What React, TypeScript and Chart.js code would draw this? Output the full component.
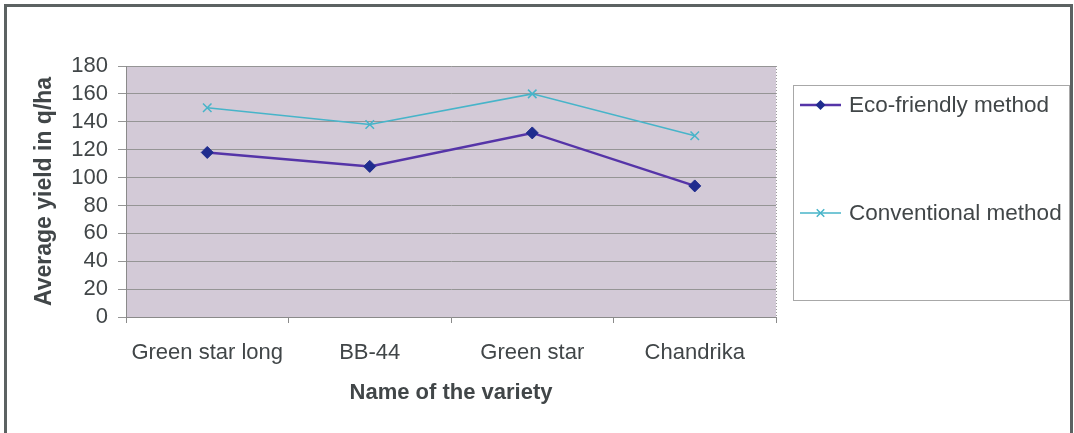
import React, { useEffect, useRef } from "react";
import { Chart, registerables } from "chart.js";

Chart.register(...registerables);

const categories = ["Green star long", "BB-44", "Green star", "Chandrika"];
const ecoFriendly = [118, 108, 132, 94];
const conventional = [150, 138, 160, 130];
const seriesNames = ["Eco-friendly method", "Conventional method"];
const yTitle = "Average yield in q/ha";
const xTitle = "Name of the variety";

const FONT = "'Liberation Sans', Arial, sans-serif";
const TEXT = "#414648";

const framePlugin = {
  id: "frame",
  beforeDraw(chart: any) {
    const { ctx, chartArea } = chart;
    ctx.save();
    ctx.fillStyle = "#ffffff";
    ctx.fillRect(0, 0, chart.width, chart.height);
    ctx.strokeStyle = "#5c6262";
    ctx.lineWidth = 3;
    ctx.beginPath();
    ctx.moveTo(5.5, chart.height);
    ctx.lineTo(5.5, 5.5);
    ctx.lineTo(1071.5, 5.5);
    ctx.lineTo(1071.5, chart.height);
    ctx.stroke();
    ctx.fillStyle = "#d3cad7";
    ctx.fillRect(chartArea.left, chartArea.top, chartArea.right - chartArea.left, chartArea.bottom - chartArea.top);
    ctx.restore();
  },
  afterDraw(chart: any) {
    const { ctx, chartArea } = chart;
    ctx.save();
    ctx.strokeStyle = "#9a9a9a";
    ctx.setLineDash([1, 2]);
    ctx.lineWidth = 1;
    ctx.beginPath();
    ctx.moveTo(chartArea.right + 0.5, chartArea.top);
    ctx.lineTo(chartArea.right + 0.5, chartArea.bottom);
    ctx.stroke();
    ctx.setLineDash([]);
    const bx = 793, by = 85, bw = 276, bh = 215;
    ctx.strokeStyle = "#a8a8a8";
    ctx.strokeRect(bx + 0.5, by + 0.5, bw, bh);
    const rows = [105, 213];
    chart.data.datasets.forEach((ds: any, i: number) => {
      const y = rows[i];
      ctx.strokeStyle = ds.borderColor;
      ctx.lineWidth = ds.borderWidth;
      ctx.beginPath();
      ctx.moveTo(800, y);
      ctx.lineTo(841, y);
      ctx.stroke();
      ctx.lineWidth = 1.5;
      ctx.fillStyle = ds.pointBackgroundColor;
      ctx.strokeStyle = ds.pointBorderColor;
      const r = 5;
      const cx = 820.5;
      if (ds.pointStyle === "rectRot") {
        ctx.beginPath();
        ctx.moveTo(cx, y - r);
        ctx.lineTo(cx + r, y);
        ctx.lineTo(cx, y + r);
        ctx.lineTo(cx - r, y);
        ctx.closePath();
        ctx.fill();
      } else {
        const d = r * 0.75;
        ctx.beginPath();
        ctx.moveTo(cx - d, y - d);
        ctx.lineTo(cx + d, y + d);
        ctx.moveTo(cx + d, y - d);
        ctx.lineTo(cx - d, y + d);
        ctx.stroke();
      }
      ctx.fillStyle = TEXT;
      ctx.font = "22.5px " + FONT;
      ctx.textBaseline = "middle";
      ctx.textAlign = "left";
      ctx.fillText(ds.label, 849, y + 1);
    });
    ctx.restore();
  },
};

export default function App() {
  const ref = useRef<HTMLCanvasElement>(null);
  useEffect(() => {
    document.body.style.margin = "0";
    const chart = new Chart(ref.current as HTMLCanvasElement, {
      type: "line",
      data: {
        labels: categories,
        datasets: [
          {
            label: seriesNames[0],
            data: ecoFriendly,
            borderColor: "#5534a8",
            borderWidth: 2.5,
            pointStyle: "rectRot",
            pointRadius: 6,
            pointBackgroundColor: "#1f2c8e",
            pointBorderColor: "#1f2c8e",
            pointBorderWidth: 1,
            tension: 0,
          },
          {
            label: seriesNames[1],
            data: conventional,
            borderColor: "#47b4c9",
            borderWidth: 1.5,
            pointStyle: "crossRot",
            pointRadius: 6,
            pointBackgroundColor: "#47b4c9",
            pointBorderColor: "#47b4c9",
            pointBorderWidth: 1.5,
            tension: 0,
          },
        ],
      },
      options: {
        animation: false,
        responsive: false,
        devicePixelRatio: 1,
        layout: { padding: { top: 66, right: 298, left: 0, bottom: 0 } },
        plugins: { legend: { display: false }, tooltip: { enabled: false } },
        scales: {
          x: {
            type: "category",
            offset: true,
            grid: {
              offset: true,
              drawOnChartArea: false,
              drawTicks: true,
              tickLength: 6,
              color: "#8a8a8a",
            },
            border: { color: "#8a8a8a", width: 1 },
            ticks: {
              color: TEXT,
              font: { family: FONT, size: 22 },
              padding: 17,
              maxRotation: 0,
              autoSkip: false,
            },
            title: {
              display: true,
              text: xTitle,
              color: TEXT,
              font: { family: FONT, size: 22, weight: "bold" },
              padding: { top: 4, bottom: 27 },
            },
            afterFit(scale: any) {
              scale.height = 116;
            },
          },
          y: {
            min: 0,
            max: 180,
            ticks: {
              stepSize: 20,
              autoSkip: false,
              color: TEXT,
              font: { family: FONT, size: 22 },
              padding: 10,
            },
            grid: {
              color: "#959595",
              lineWidth: 1,
              tickLength: 8,
              drawTicks: true,
            },
            border: { color: "#8a8a8a", width: 1 },
            title: {
              display: true,
              text: yTitle,
              color: TEXT,
              font: { family: FONT, size: 23, weight: "bold" },
              padding: { top: 31, bottom: 0 },
            },
            afterFit(scale: any) {
              scale.width = 126;
            },
          },
        },
      },
      plugins: [framePlugin],
    } as any);
    return () => chart.destroy();
  }, []);
  return (
    <div style={{ width: 1074, height: 433 }}>
      <canvas ref={ref} width={1074} height={433} style={{ display: "block" }} />
    </div>
  );
}
